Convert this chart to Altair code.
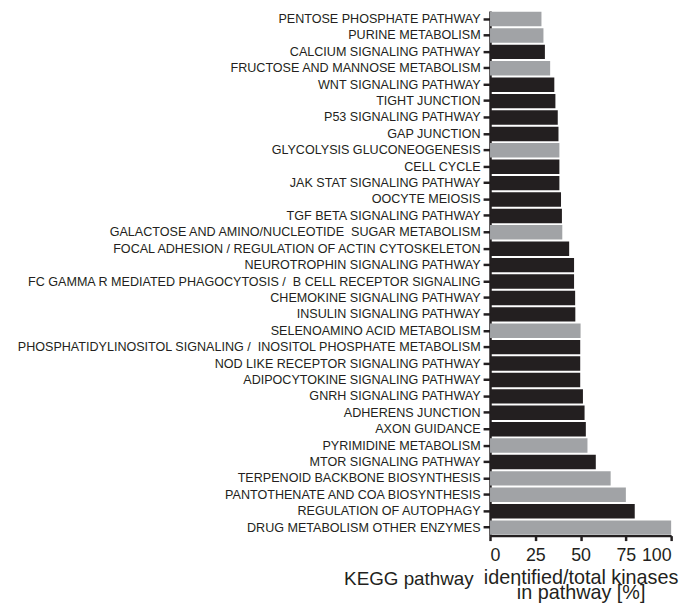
import altair as alt
import pandas as pd

NB = "\u00a0"
pathways = [
    "PENTOSE PHOSPHATE PATHWAY",
    "PURINE METABOLISM",
    "CALCIUM SIGNALING PATHWAY",
    "FRUCTOSE AND MANNOSE METABOLISM",
    "WNT SIGNALING PATHWAY",
    "TIGHT JUNCTION",
    "P53 SIGNALING PATHWAY",
    "GAP JUNCTION",
    "GLYCOLYSIS GLUCONEOGENESIS",
    "CELL CYCLE",
    "JAK STAT SIGNALING PATHWAY",
    "OOCYTE MEIOSIS",
    "TGF BETA SIGNALING PATHWAY",
    "GALACTOSE AND AMINO/NUCLEOTIDE" + NB + " SUGAR METABOLISM",
    "FOCAL ADHESION / REGULATION OF ACTIN CYTOSKELETON",
    "NEUROTROPHIN SIGNALING PATHWAY",
    "FC GAMMA R MEDIATED PHAGOCYTOSIS /" + NB + " B CELL RECEPTOR SIGNALING",
    "CHEMOKINE SIGNALING PATHWAY",
    "INSULIN SIGNALING PATHWAY",
    "SELENOAMINO ACID METABOLISM",
    "PHOSPHATIDYLINOSITOL SIGNALING /" + NB + " INOSITOL PHOSPHATE METABOLISM",
    "NOD LIKE RECEPTOR SIGNALING PATHWAY",
    "ADIPOCYTOKINE SIGNALING PATHWAY",
    "GNRH SIGNALING PATHWAY",
    "ADHERENS JUNCTION",
    "AXON GUIDANCE",
    "PYRIMIDINE METABOLISM",
    "MTOR SIGNALING PATHWAY",
    "TERPENOID BACKBONE BIOSYNTHESIS",
    "PANTOTHENATE AND COA BIOSYNTHESIS",
    "REGULATION OF AUTOPHAGY",
    "DRUG METABOLISM OTHER ENZYMES",
]
values = [28.4, 29.5, 30.3, 33.2, 35.5, 36.1, 37.4, 37.8, 38.3, 38.3, 38.3, 39.2,
          39.7, 39.9, 43.7, 46.4, 46.4, 47.0, 47.1, 50.0, 49.8, 49.8, 49.8, 51.3,
          52.2, 52.9, 53.8, 58.4, 66.6, 75.0, 79.9, 100.0]
groups = ["metabolic", "metabolic", "signaling", "metabolic", "signaling", "signaling",
          "signaling", "signaling", "metabolic", "signaling", "signaling", "signaling",
          "signaling", "metabolic", "signaling", "signaling", "signaling", "signaling",
          "signaling", "metabolic", "signaling", "signaling", "signaling", "signaling",
          "signaling", "signaling", "metabolic", "signaling", "metabolic", "metabolic",
          "signaling", "metabolic"]
x_ticks = [0, 25, 50, 75, 100]

df = pd.DataFrame({"pathway": pathways, "value": values, "group": groups})

INK = "#231f20"
chart = alt.Chart(df).mark_bar(orient="horizontal").encode(
    y=alt.Y("pathway:N", sort=pathways,
            scale=alt.Scale(paddingInner=0.12, paddingOuter=0.05),
            axis=alt.Axis(title="KEGG pathway", titleAngle=0, titleAlign="right",
                          titleBaseline="alphabetic", titleX=-17, titleY=579,
                          titleFontSize=19, titleFontWeight="normal",
                          titleFont="Liberation Sans", titleColor=INK,
                          labelFont="Liberation Sans", labelFontSize=12.7,
                          labelColor=INK, labelPadding=3, labelLimit=600,
                          tickSize=7, tickWidth=2.5, tickColor=INK,
                          domainWidth=2.5, domainColor=INK)),
    x=alt.X("value:Q", scale=alt.Scale(domain=[0, 100], nice=False),
            axis=alt.Axis(values=x_ticks, title=["identified/total kinases", "in pathway [%]"],
                          titleFontSize=20, titleFontWeight="normal",
                          titleFont="Liberation Sans", titleColor=INK,
                          titlePadding=3, titleLineHeight=16,
                          labelFont="Liberation Sans", labelFontSize=18,
                          labelColor=INK, labelPadding=6,
                          tickSize=5, tickWidth=2.5, tickColor=INK,
                          domainWidth=2.5, domainColor=INK, grid=False)),
    color=alt.Color("group:N", scale=alt.Scale(domain=["signaling", "metabolic"],
                                               range=[INK, "#a1a3a6"]),
                    legend=None),
).properties(
    width=183, height=530,
    autosize=alt.AutoSizeParams(type="none"),
    padding={"left": 487, "top": 0, "right": 14, "bottom": 67},
).configure_view(stroke=None)

chart.save("out.html", embed_options={"renderer": "svg", "actions": False})
